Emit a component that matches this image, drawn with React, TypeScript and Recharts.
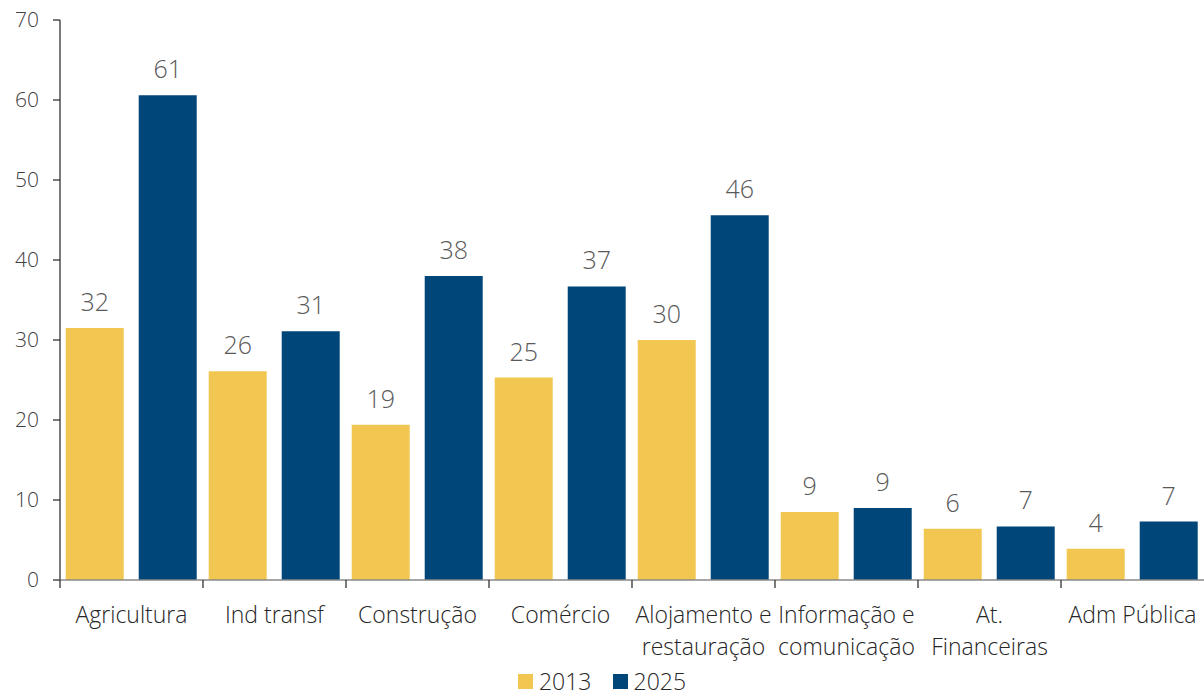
import React from "react";
import { BarChart, Bar, XAxis, YAxis, Legend, LabelList } from "recharts";

const categories = [
  "Agricultura",
  "Ind transf",
  "Construção",
  "Comércio",
  "Alojamento e\nrestauração",
  "Informação e\ncomunicação",
  "At.\nFinanceiras",
  "Adm Pública",
];
const values2013 = [31.5, 26.1, 19.4, 25.3, 30.0, 8.5, 6.4, 3.9];
const values2025 = [60.6, 31.1, 38.0, 36.7, 45.6, 9.0, 6.7, 7.3];
const yTicks = [0, 10, 20, 30, 40, 50, 60, 70];

const data = categories.map((name, i) => ({
  name,
  y2013: values2013[i],
  y2025: values2025[i],
}));

const W = 1204;
const H = 698;
const LEFT = 60;
const BAND = (W - LEFT) / categories.length;
const FONT = "'Open Sans', sans-serif";

const CategoryTick = (props: any) => {
  const { x, payload } = props;
  const lines = String(payload.value).split("\n");
  return (
    <g>
      <line x1={x - BAND / 2} x2={x - BAND / 2} y1={580} y2={588} stroke="#222" strokeWidth={1.2} />
      <text x={x} y={623} textAnchor="middle" fontSize={23} fontWeight={300} fill="#262626" fontFamily={FONT}>
        {lines.map((l, i) => (
          <tspan key={i} x={x} dy={i === 0 ? 0 : 32}>
            {l}
          </tspan>
        ))}
      </text>
    </g>
  );
};

const LegendContent = (props: any) => {
  const items = props.payload || [];
  return (
    <div style={{ display: "flex", justifyContent: "center", alignItems: "center", height: 26, fontFamily: FONT }}>
      {items.map((it: any, i: number) => (
        <div key={i} style={{ display: "flex", alignItems: "center", marginRight: i === items.length - 1 ? 0 : 21 }}>
          <span style={{ display: "inline-block", width: 15, height: 15, background: it.color, marginRight: 6 }} />
          <span style={{ fontSize: 23, fontWeight: 300, color: "#262626", lineHeight: "26px" }}>{it.value}</span>
        </div>
      ))}
    </div>
  );
};

const fmt = (v: any) => Math.round(Number(v)).toString();

export default function App() {
  return (
    <div style={{ position: "absolute", left: 0, top: 0, width: W, height: H, background: "#fff" }}>
      <BarChart
        width={W}
        height={H}
        data={data}
        margin={{ top: 20, right: 0, left: 0, bottom: 0 }}
        barCategoryGap="4%"
        barGap={15}
        style={{ fontFamily: FONT }}
      >
        <YAxis
          domain={[0, 70]}
          ticks={yTicks}
          width={LEFT}
          axisLine={{ stroke: "#222", strokeWidth: 1.2 }}
          tickLine={{ stroke: "#222", strokeWidth: 1.2 }}
          tickSize={7}
          tickMargin={14}
          tick={{ fontSize: 21, fill: "#404040", fontWeight: 300, fontFamily: FONT }}
          interval={0}
        />
        <XAxis
          dataKey="name"
          height={90}
          axisLine={{ stroke: "#888", strokeWidth: 1.5 }}
          tickLine={false}
          tick={<CategoryTick />}
          interval={0}
        />
        <Legend
          verticalAlign="bottom"
          height={28}
          content={<LegendContent />}
          wrapperStyle={{ bottom: 2 }}
        />
        <Bar dataKey="y2013" name="2013" fill="#F2C751" isAnimationActive={false}>
          <LabelList dataKey="y2013" position="top" offset={17} formatter={fmt} fill="#595959" fontSize={25} fontWeight={300} fontFamily={FONT} />
        </Bar>
        <Bar dataKey="y2025" name="2025" fill="#004679" isAnimationActive={false}>
          <LabelList dataKey="y2025" position="top" offset={17} formatter={fmt} fill="#595959" fontSize={25} fontWeight={300} fontFamily={FONT} />
        </Bar>
      </BarChart>
    </div>
  );
}
